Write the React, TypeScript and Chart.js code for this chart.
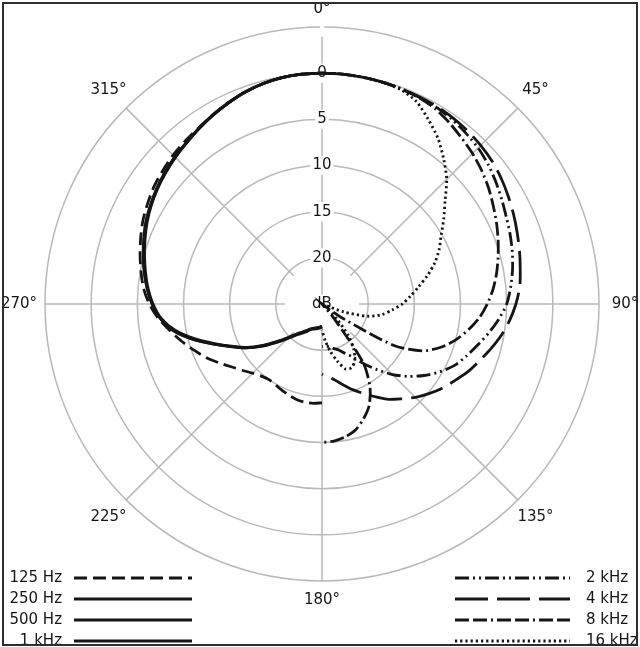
import React, { useEffect, useRef } from 'react';
import { Chart, registerables } from 'chart.js';

Chart.register(...registerables);

const FONT = '"DejaVu Sans", sans-serif';
const INK = '#151515';
const GRID = '#b9b9b9';

// angle categories, every 5 degrees (0..355)
const angleSteps: string[] = Array.from({ length: 72 }, (_, i) => String(i * 5));

// compass labels every 45 degrees
const compassLabels = ['0°', '45°', '90°', '135°', '180°', '225°', '270°', '315°'];

// dB rings shown on the scale (inner value = 25 dB at centre)
const ringMin = -5;
const ringMax = 25;
const ringStep = 5;

// ---- right half: 0°,5°,...,180° (dB attenuation) ----
const hz2k = [0, 0, 0.05, 0.1, 0.15, 0.25, 0.35, 0.55, 0.8, 1.1, 1.5, 2.0, 2.5, 2.95, 3.3, 3.65, 4.05, 4.5, 5.0,
  5.8, 6.7, 7.6, 8.4, 9.2, 10.3, 11.5, 12.8, 14.2, 15.7, 17.1, 18.4, 19.1, 19.7, 20.0, 20.3, 20.4, 20.4];
const hz4k = [0, 0, 0.05, 0.1, 0.15, 0.2, 0.25, 0.35, 0.5, 0.7, 0.95, 1.3, 1.7, 2.1, 2.5, 2.85, 3.2, 3.5, 4.0,
  4.6, 5.3, 6.1, 6.9, 7.6, 8.4, 9.1, 9.9, 10.7, 11.6, 12.4, 13.4, 14.3, 15.1, 15.9, 16.6, 17.1, 17.4];
const hz8k = [0, 0, 0.05, 0.1, 0.2, 0.3, 0.55, 1.0, 1.5, 1.95, 2.45, 3.0, 3.6, 4.15, 4.7, 5.25, 5.8, 6.4, 7.1,
  7.9, 8.9, 10.0, 11.3, 13.0, 16.0, 22.5, 25, 25, 23, 17.2, 14.6, 12.9, 11.8, 10.9, 10.4, 10.1, 10.0];
const hz16k = [0, 0, 0.05, 0.1, 0.25, 0.8, 1.95, 3.1, 4.5, 5.9, 7.6, 8.9, 10.1, 11.0, 12.0, 13.2, 14.4, 15.4, 16.3,
  17.4, 18.4, 19.9, 22.5, 25, 25, 25, 24.5, 22.8, 20.6, 19.0, 17.9, 17.4, 17.5, 18.6, 19.8, 21.0, 22.2];

// ---- left half: 180°,185°,...,360° ----
const hz125 = [14.3, 14.2, 14.2, 14.3, 14.5, 14.7, 14.9, 15.0, 14.8, 14.4, 13.8, 13.1, 12.2, 11.2, 10.3, 9.3, 8.3,
  7.2, 6.3, 5.6, 5.1, 4.6, 4.1, 3.6, 3.2, 2.8, 2.5, 2.2, 1.95, 1.7, 1.35, 0.95, 0.6, 0.3, 0.1, 0.02, 0];
const hz250 = [22.5, 22.4, 22.4, 22.3, 22.2, 22.0, 21.6, 21.2, 20.7, 19.8, 18.6, 17.1, 15.5, 14.1, 12.4, 10.4, 8.6,
  7.4, 6.6, 6.0, 5.5, 5.0, 4.5, 4.0, 3.6, 3.2, 2.85, 2.5, 2.2, 1.8, 1.4, 1.0, 0.6, 0.3, 0.1, 0.02, 0];
const hz500 = [22.5, 22.4, 22.3, 22.2, 22.1, 21.9, 21.5, 21.1, 20.6, 19.7, 18.5, 17.0, 15.5, 14.1, 12.5, 10.6, 8.8,
  7.5, 6.7, 6.1, 5.6, 5.1, 4.6, 4.1, 3.65, 3.25, 2.9, 2.55, 2.2, 1.8, 1.4, 1.0, 0.6, 0.3, 0.1, 0.02, 0];
const hz1k = [22.6, 22.5, 22.4, 22.3, 22.2, 22.0, 21.7, 21.3, 20.8, 19.9, 18.7, 17.2, 15.6, 14.2, 12.4, 10.4, 8.6,
  7.4, 6.6, 6.0, 5.45, 4.95, 4.45, 3.95, 3.55, 3.15, 2.8, 2.45, 2.15, 1.75, 1.35, 0.95, 0.55, 0.28, 0.1, 0.02, 0];

const leftLabels = ['125 Hz', '250 Hz', '500 Hz', '1 kHz'];
const rightLabels = ['2 kHz', '4 kHz', '8 kHz', '16 kHz'];

const dashes: Record<string, number[]> = {
  '125 Hz': [13, 6],
  '250 Hz': [],
  '500 Hz': [],
  '1 kHz': [],
  '2 kHz': [14, 4, 2, 4, 2, 4],
  '4 kHz': [33, 9],
  '8 kHz': [14, 4, 14, 4, 2, 4],
  '16 kHz': [2.2, 3],
};

function rightHalf(vals: number[]) {
  const out: (number | null)[] = new Array(72).fill(null);
  for (let i = 0; i <= 36; i++) out[i] = vals[i];
  return out;
}
function leftHalf(vals: number[]) {
  const out: (number | null)[] = new Array(72).fill(null);
  for (let i = 0; i <= 36; i++) out[(36 + i) % 72] = vals[i];
  return out;
}

const overlay = {
  id: 'overlay',
  afterDraw(chart: any) {
    const { ctx } = chart;
    const scale = chart.scales.r;
    ctx.save();
    ctx.beginPath();
    ctx.rect(4, 4, 632, 641);
    ctx.clip();

    // compass labels
    ctx.font = `15px ${FONT}`;
    ctx.fillStyle = INK;
    ctx.textAlign = 'center';
    ctx.textBaseline = 'middle';
    const dist = [295, 302, 303, 302, 296, 302, 303, 302];
    compassLabels.forEach((t, k) => {
      const p = scale.getPointPosition(k * 9, dist[k]);
      ctx.fillText(t, p.x, p.y);
    });

    // legends
    const rows = [578, 599, 620, 641];
    const dsets = chart.data.datasets;
    const drawSample = (label: string, x1: number, x2: number, y: number) => {
      const ds = dsets.find((d: any) => d.label === label);
      ctx.save();
      ctx.strokeStyle = INK;
      ctx.lineWidth = ds.borderWidth;
      ctx.setLineDash(ds.borderDash || []);
      ctx.beginPath();
      ctx.moveTo(x1, y);
      ctx.lineTo(x2, y);
      ctx.stroke();
      ctx.restore();
    };
    leftLabels.forEach((l, i) => {
      ctx.textAlign = 'right';
      ctx.fillText(l, 62, rows[i]);
      drawSample(l, 74, 192, rows[i]);
    });
    rightLabels.forEach((l, i) => {
      ctx.textAlign = 'left';
      ctx.fillText(l, 586, rows[i]);
      drawSample(l, 455, 570, rows[i]);
    });
    ctx.restore();

    // frame
    ctx.save();
    ctx.strokeStyle = '#2e2e2e';
    ctx.lineWidth = 2;
    ctx.strokeRect(3, 3, 634, 642);
    ctx.restore();
  },
};

export default function App() {
  const ref = useRef<HTMLCanvasElement>(null);
  useEffect(() => {
    if (!ref.current) return;
    const mk = (label: string, data: (number | null)[]) => ({
      label,
      data,
      borderColor: INK,
      backgroundColor: 'transparent',
      borderWidth: 2.8,
      borderDash: dashes[label],
      borderCapStyle: 'butt',
      pointRadius: 0,
      pointHoverRadius: 0,
      fill: false,
      tension: 0.25,
      spanGaps: false,
    });
    const chart = new Chart(ref.current, {
      type: 'radar',
      data: {
        labels: angleSteps,
        datasets: [
          mk('125 Hz', leftHalf(hz125)),
          mk('250 Hz', leftHalf(hz250)),
          mk('500 Hz', leftHalf(hz500)),
          mk('1 kHz', leftHalf(hz1k)),
          mk('2 kHz', rightHalf(hz2k)),
          mk('4 kHz', rightHalf(hz4k)),
          mk('8 kHz', rightHalf(hz8k)),
          mk('16 kHz', rightHalf(hz16k)),
        ],
      },
      options: {
        animation: false,
        responsive: false,
        layout: { padding: { left: 36, top: 18, right: 31, bottom: 56 } },
        plugins: { legend: { display: false }, tooltip: { enabled: false } },
        scales: {
          r: {
            reverse: true,
            min: ringMin,
            max: ringMax,
            startAngle: 0,
            grid: { circular: true, color: GRID, lineWidth: 1.5 },
            angleLines: {
              display: true,
              color: (c: any) => (c.index % 9 === 0 ? GRID : 'transparent'),
              lineWidth: (c: any) => (c.index % 9 === 0 ? 1.5 : 0),
              borderDash: (c: any) => {
                if (c.index === 0) return [];
                if (c.index === 36) return [0, 22, 1000, 0];
                if (c.index === 18 || c.index === 54) return [0, 37, 1000, 0];
                return [0, 40, 1000, 0];
              },
            },
            pointLabels: { display: false },
            ticks: {
              reverse: true,
              stepSize: ringStep,
              color: INK,
              font: { size: 15, family: FONT },
              backdropColor: '#ffffff',
              backdropPadding: 2,
              showLabelBackdrop: true,
              callback: (v: any) => (v === ringMax ? 'dB' : v === ringMin ? '' : String(v)),
            },
          },
        },
      },
      plugins: [overlay],
    } as any);
    return () => chart.destroy();
  }, []);
  return (
    <div style={{ position: 'absolute', left: 0, top: 0, width: 640, height: 647, background: '#fff' }}>
      <canvas ref={ref} width={640} height={647} style={{ display: 'block', width: 640, height: 647 }} />
    </div>
  );
}
